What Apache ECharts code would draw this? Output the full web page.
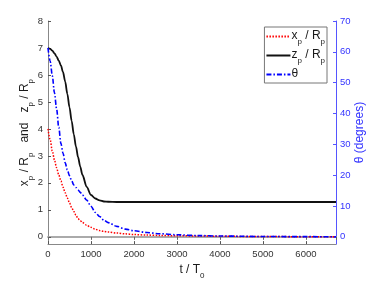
<!DOCTYPE html>
<html><head><meta charset="utf-8">
<script src="https://cdn.jsdelivr.net/npm/echarts@6/dist/echarts.min.js"></script>
<style>html,body{margin:0;padding:0;background:#fff}#c{width:381px;height:285px}</style>
</head><body><div id="c"></div>
<script>
const tValues = [0,50,100,150,200,250,300,350,400,450,500,550,600,650,700,750,800,900,1000,1100,1200,1300,1400,1600,1800,2000,2300,2600,3000,3500,4000,5000,6000,6700];
const xpValues = [4.0,3.6,3.18,2.85,2.56,2.3,2.07,1.84,1.63,1.44,1.26,1.09,0.94,0.8,0.67,0.6,0.53,0.43,0.35,0.28,0.23,0.2,0.18,0.14,0.11,0.085,0.065,0.05,0.04,0.03,0.02,0.01,0.005,0.0];
const zpValues = [7.0,6.97,6.9,6.8,6.68,6.53,6.35,6.1,5.75,5.3,4.8,4.3,3.8,3.35,2.95,2.6,2.3,1.85,1.55,1.42,1.35,1.31,1.3,1.29,1.29,1.29,1.29,1.29,1.29,1.29,1.29,1.29,1.29,1.29];
const thetaValues = [61.3,57,52.3,46.7,41.5,35.5,30.3,27.1,24,21.7,19.8,18.2,16.8,16,15.2,14.4,13.6,11.9,9.9,7.9,6.6,5.4,4.6,3.4,2.5,1.95,1.4,1.0,0.65,0.4,0.25,0.1,0.05,0.03];
const leftTicks = [0,1,2,3,4,5,6,7,8];
const rightTicks = [0,10,20,30,40,50,60,70];
const xTicks = [0,1000,2000,3000,4000,5000,6000];
const seriesNames = ['xp', 'zp', 'theta'];

const FONT = 'Liberation Sans';
const rich = {
  n: {fontFamily: FONT, fontSize: 12, lineHeight: 13, verticalAlign: 'top', color: '#1a1a1a'},
  s: {fontFamily: FONT, fontSize: 8, lineHeight: 8, padding: [8,0,0,0], verticalAlign: 'top', color: '#1a1a1a'}
};
const richBlue = {
  n: Object.assign({}, rich.n, {color: '#3333ff'}),
  s: Object.assign({}, rich.s, {color: '#3333ff'})
};
const labelsFor = {
  xp: '{n|x}{s|p}{n| / R}{s|p}',
  zp: '{n|z}{s|p}{n| / R}{s|p}',
  theta: '{n|θ}'
};
const xMin = 0, xMax = 6700;
const lMin = -0.27, lMax = 8;
const rMin = lMin * 70 / 8, rMax = 70;
const plain = v => String(Math.round(v));

const chart = echarts.init(document.getElementById('c'), null, {renderer: 'canvas'});
chart.setOption({
  animation: false,
  backgroundColor: '#fff',
  grid: {left: 48, right: 45, top: 21, bottom: 38},
  legend: {
    orient: 'vertical', right: 54, top: 27,
    backgroundColor: '#fff', borderColor: '#777', borderWidth: 1,
    padding: [3, 2, 3, 1], itemGap: 3, itemWidth: 24, itemHeight: 12,
    data: seriesNames,
    itemStyle: {color: 'rgba(0,0,0,0)', borderWidth: 0, opacity: 0},
    formatter: name => labelsFor[name],
    textStyle: {rich: rich, padding: [0,0,0,-4]}
  },
  xAxis: [{
    type: 'value', min: xMin, max: xMax, splitNumber: 7,
    name: '{n|t / T}{s|0}', nameLocation: 'middle', nameGap: 17,
    nameTextStyle: {rich: rich},
    axisLine: {show: true, onZero: false, lineStyle: {color: '#888', width: 1}},
    axisTick: {inside: true, length: 3, lineStyle: {color: '#555'}},
    axisLabel: {showMaxLabel: false, formatter: plain, fontFamily: FONT, fontSize: 9.5, color: '#333', margin: 5},
    splitLine: {show: false}
  }, {
    type: 'value', position: 'top', min: xMin, max: xMax, splitNumber: 7,
    axisLine: {show: true, lineStyle: {color: '#aaa', width: 2}},
    axisTick: {inside: true, length: 3, lineStyle: {color: '#666'}},
    axisLabel: {show: false}, splitLine: {show: false}
  }],
  yAxis: [{
    type: 'value', min: lMin, max: lMax, splitNumber: 8,
    name: '{n|x}{s|p}{n| / R}{s|p}{n|   and   z}{s|p}{n| / R}{s|p}',
    nameLocation: 'middle', nameGap: 16, nameMoveOverlap: false,
    nameTextStyle: {rich: rich},
    axisLine: {show: true, onZero: false, lineStyle: {color: '#888', width: 1}},
    axisTick: {inside: true, length: 3, lineStyle: {color: '#555'}},
    axisLabel: {showMinLabel: false, formatter: plain, fontFamily: FONT, fontSize: 9.5, color: '#333', margin: 5},
    splitLine: {show: false}
  }, {
    type: 'value', position: 'right', min: rMin, max: rMax, splitNumber: 7,
    name: '{n|θ (degrees)}', nameLocation: 'middle', nameGap: 18, nameRotate: 90, nameMoveOverlap: false,
    nameTextStyle: {rich: richBlue},
    axisLine: {show: true, onZero: false, lineStyle: {color: '#5555ff', width: 1}},
    axisTick: {inside: true, length: 3, lineStyle: {color: '#5555ff'}},
    axisLabel: {showMinLabel: false, formatter: plain, fontFamily: FONT, fontSize: 9.5, color: '#3333ff', margin: 4},
    splitLine: {show: false}
  }],
  series: [{
    name: 'xp', type: 'line', yAxisIndex: 0, symbol: 'none', smooth: 0.3, smoothMonotone: 'x',
    data: tValues.map((t, i) => [t, xpValues[i]]),
    lineStyle: {color: '#ff0000', width: 1.5, type: [1.5, 1.5]}, itemStyle: {color: '#ff0000'}
  }, {
    name: 'zp', type: 'line', yAxisIndex: 0, symbol: 'none', smooth: 0.3, smoothMonotone: 'x',
    data: tValues.map((t, i) => [t, zpValues[i]]),
    lineStyle: {color: '#111', width: 1.8, type: 'solid'}, itemStyle: {color: '#111'}
  }, {
    name: 'theta', type: 'line', yAxisIndex: 1, symbol: 'none', smooth: 0.3, smoothMonotone: 'x',
    data: tValues.map((t, i) => [t, thetaValues[i]]),
    lineStyle: {color: '#0000ff', width: 1.6, type: [5, 2, 1.5, 2]}, itemStyle: {color: '#0000ff'}
  }]
});
</script></body></html>
